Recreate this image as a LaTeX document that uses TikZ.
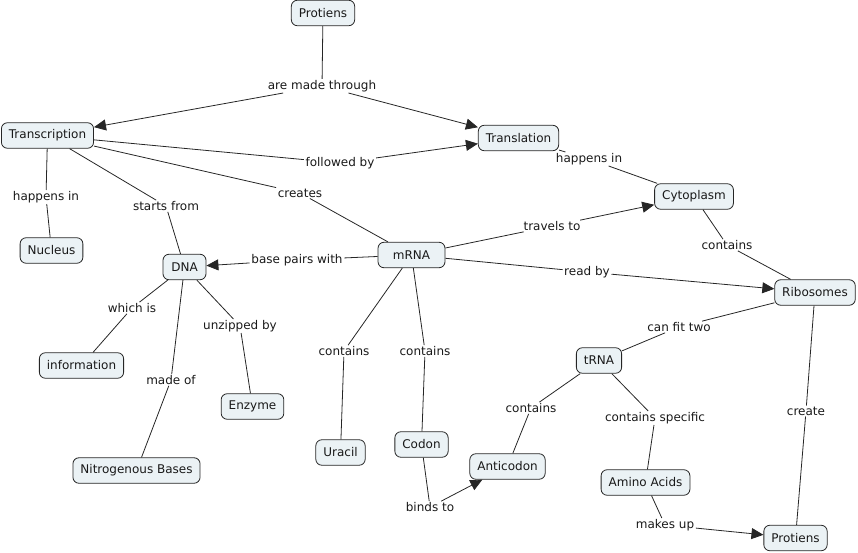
\documentclass[tikz,border=0pt]{standalone}
\usepackage{fontspec}
\setmainfont{DejaVu Sans}
\usetikzlibrary{arrows.meta}
\begin{document}
\begin{tikzpicture}[x=1pt,y=-1pt,
  concept/.style={draw=black!85,fill=cfill,rounded corners=6pt,line width=0.8pt,
    inner xsep=7.5pt,inner ysep=0pt,minimum height=25.5pt,font=\fontsize{12}{14}\selectfont,text=black!90},
  lbl/.style={inner xsep=1.5pt,inner ysep=1pt,font=\fontsize{12}{14}\selectfont,text=black!90},
  link/.style={line width=0.8pt,draw=black!85},
  arr/.style={link,-{Triangle[length=12pt,width=11pt]}}]
\definecolor{cfill}{HTML}{EBF2F5}
\useasboundingbox (0,0) rectangle (858,553);
% concepts
\node[concept] (prot1) at (323,13) {Protiens};
\node[concept] (trans) at (47.5,135.5) {Transcription};
\node[concept] (transl) at (518.5,138) {Translation};
\node[concept] (cyto) at (694,196.5) {Cytoplasm};
\node[concept] (nuc) at (51.5,250.5) {Nucleus};
\node[concept,minimum width=43pt] (dna) at (184.5,267) {DNA};
\node[concept,minimum width=67pt] (mrna) at (411.5,255) {mRNA};
\node[concept] (ribo) at (815,292.5) {Ribosomes};
\node[concept] (info) at (81.5,365.5) {information};
\node[concept] (enz) at (252.5,406.5) {Enzyme};
\node[concept] (nitro) at (136.5,470.5) {Nitrogenous Bases};
\node[concept] (ura) at (340.5,452.5) {Uracil};
\node[concept] (codon) at (421.5,444.5) {Codon};
\node[concept] (trna) at (599,360.5) {tRNA};
\node[concept] (anti) at (507.5,466.5) {Anticodon};
\node[concept] (amino) at (645.5,482.5) {Amino Acids};
\node[concept] (prot2) at (795.5,538) {Protiens};
% labels
\node[lbl] (l1) at (322,86) {are made through};
\node[lbl] (l2) at (340,163) {followed by};
\node[lbl] (l3) at (46,197) {happens in};
\node[lbl] (l4) at (166,206) {starts from};
\node[lbl] (l5) at (300,193) {creates};
\node[lbl] (l6) at (297,260) {base pairs with};
\node[lbl] (l7) at (589,159) {happens in};
\node[lbl] (l8) at (552,226) {travels to};
\node[lbl] (l9) at (727,245) {contains};
\node[lbl] (l10) at (587,272) {read by};
\node[lbl] (l11) at (132,308) {which is};
\node[lbl] (l12) at (171,380) {made of};
\node[lbl] (l13) at (240,326) {unzipped by};
\node[lbl] (l14) at (344,351) {contains};
\node[lbl] (l15) at (425,351) {contains};
\node[lbl] (l16) at (679,327) {can fit two};
\node[lbl] (l17) at (531,408) {contains};
\node[lbl] (l18) at (655,418) {contains specific};
\node[lbl] (l19) at (806,411) {create};
\node[lbl] (l20) at (430,507) {binds to};
\node[lbl] (l21) at (665,525) {makes up};
% links
\draw[link] (prot1) -- (l1);
\draw[arr] (l1) -- (trans);
\draw[arr] (l1) -- (transl);
\draw[link] (trans) -- (l2);
\draw[arr] (l2) -- (transl);
\draw[link] (trans) -- (l3); \draw[link] (l3) -- (nuc);
\draw[link] (trans) -- (l4); \draw[link] (l4) -- (dna);
\draw[link] (trans) -- (l5); \draw[link] (l5) -- (mrna);
\draw[link] (mrna) -- (l6); \draw[arr] (l6) -- (dna);
\draw[link] (transl) -- (l7); \draw[link] (l7) -- (cyto);
\draw[link] (mrna) -- (l8); \draw[arr] (l8) -- (cyto);
\draw[link] (cyto) -- (l9); \draw[link] (l9) -- (ribo);
\draw[link] (mrna) -- (l10); \draw[arr] (l10) -- (ribo);
\draw[link] (dna) -- (l11); \draw[link] (l11) -- (info);
\draw[link] (dna) -- (l12); \draw[link] (l12) -- (nitro);
\draw[link] (dna) -- (l13); \draw[link] (l13) -- (enz);
\draw[link] (mrna) -- (l14); \draw[link] (l14) -- (ura);
\draw[link] (mrna) -- (l15); \draw[link] (l15) -- (codon);
\draw[link] (ribo) -- (l16); \draw[link] (l16) -- (trna);
\draw[link] (trna) -- (l17); \draw[link] (l17) -- (anti);
\draw[link] (trna) -- (l18); \draw[link] (l18) -- (amino);
\draw[link] (ribo) -- (l19); \draw[link] (l19) -- (prot2);
\draw[link] (codon) -- (l20); \draw[arr] (l20) -- (anti);
\draw[link] (amino) -- (l21); \draw[arr] (l21) -- (prot2);
\end{tikzpicture}
\end{document}
